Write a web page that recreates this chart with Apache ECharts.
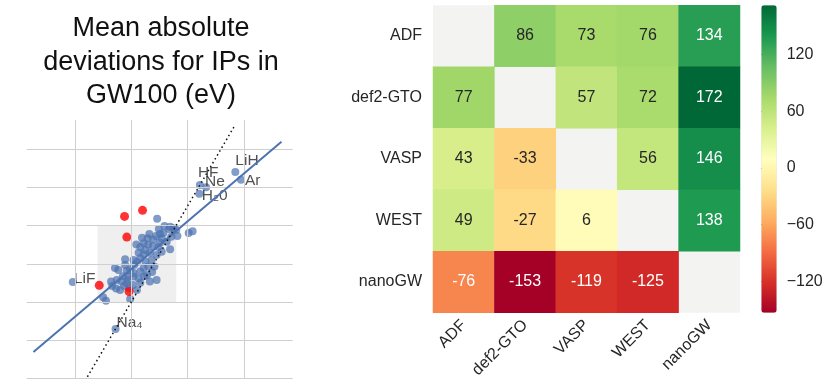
<!DOCTYPE html>
<html><head><meta charset="utf-8">
<script src="https://cdn.jsdelivr.net/npm/echarts@6/dist/echarts.min.js"></script>
<style>html,body{margin:0;padding:0;background:#fff}#c{width:830px;height:386px}</style>
</head><body><div id="c"></div><script>
// ---------- scatter data (grid units) ----------
const clusterX = [2.46,2.59,2.69,2.67,2.75,2.80,2.49,2.51,3.02,3.09,2.32,2.29,2.39,2.44,2.54,2.63,2.71,2.82,2.09,2.22,2.16,2.30,2.38,2.48,2.69,2.13,2.22,2.33,2.45,2.54,1.89,2.04,2.16,2.25,2.36,2.41,2.30,2.22,1.71,1.77,1.92,1.98,2.04,2.16,1.85,1.95,2.04,2.13,2.28,2.45,2.33,2.16,1.64,1.74,1.83,1.92,1.73,1.80,2.03,2.10,1.50,1.98,1.55,2.57,2.25,2.05,1.89,2.10,1.94,1.87,2.23,2.37,1.66,2.19,2.51,1.96];
const clusterY = [4.18,3.99,3.97,3.91,3.93,3.89,3.91,3.78,3.81,3.85,3.78,3.67,3.64,3.73,3.67,3.58,3.71,3.73,3.51,3.54,3.44,3.50,3.47,3.44,3.38,3.29,3.25,3.29,3.23,3.32,3.12,3.10,3.15,3.06,3.10,2.93,2.93,2.89,2.89,2.84,2.82,2.86,2.76,2.80,2.68,2.67,2.67,2.62,2.71,2.58,2.54,2.51,2.54,2.58,2.54,2.49,2.36,2.32,2.45,2.32,2.13,2.08,2.04,3.81,3.36,2.97,2.97,3.05,2.58,2.42,2.68,2.79,2.42,3.68,3.55,2.37];
const redX = [1.88,2.20,1.92,1.43,1.96];
const redY = [4.24,4.40,3.70,2.44,2.28];
const labeledNames = ['LiF','Na₄','HF','Ne','H₂0','LiH','Ar'];
const labeledX = [0.96,1.72,3.22,3.33,3.21,3.85,3.95];
const labeledY = [2.53,1.30,5.06,5.00,4.83,5.40,5.20];
const fitLineX = [0.26,4.67];
const fitLineY = [0.70,6.19];
const identityLineX = [1.22,3.85];
const identityLineY = [0.05,6.64];
const boxX = [1.4,2.8];
const boxY = [2.0,4.0];
const gridXTicks = [1,2,3,4];
const gridYTicks = [0,1,2,3,4,5,6];

// ---------- heatmap data ----------
const methods = ['ADF','def2-GTO','VASP','WEST','nanoGW'];
const rowADF    = [null, 86, 73, 76, 134];
const rowDef2   = [77, null, 57, 72, 172];
const rowVASP   = [43, -33, null, 56, 146];
const rowWEST   = [49, -27, 6, null, 138];
const rowNanoGW = [-76, -153, -119, -125, null];
const colorbarTicks = [-120,-60,0,60,120];
const colorMin = -153, colorMax = 172;

// ---------- style ----------
const FONT = "'Liberation Sans', Arial, Helvetica, sans-serif";
const TXT = '#262626';
const BLUE = '#4c72b0';
const PT = 'rgba(76,114,176,0.88)';
const labelOffsets = {'LiF':[5,0.5],'Na₄':[5,-2.5],'HF':[2,-8.8],'Ne':[3,-2.1],'H₂0':[6.5,5.5],'LiH':[4,-7.1],'Ar':[8,4.8]};

const rows = [rowADF,rowDef2,rowVASP,rowWEST,rowNanoGW];
const heatData = [];
rows.forEach((r, yi) => r.forEach((v, xi) => {
  if (v === null) return;
  const light = (v > 100 || v < -60);
  heatData.push({value:[xi, yi, v], label:{color: light ? '#ffffff' : TXT}});
}));

const gridLineData = gridXTicks.map(v => ({xAxis:v})).concat(gridYTicks.map(v => ({yAxis:v})));

const chart = echarts.init(document.getElementById('c'), null, {renderer:'canvas'});
chart.setOption({
  animation:false,
  backgroundColor:'#ffffff',
  textStyle:{fontFamily:FONT},
  graphic:[{
    type:'text', x:161, y:12,
    style:{text:'Mean absolute\ndeviations for IPs in\nGW100 (eV)', align:'center', verticalAlign:'top',
      font:'27px ' + FONT, lineHeight:33.5, fill:'#111'}
  }],
  grid:[
    {left:26.7, top:120, width:266, height:258.7},
    {left:433, top:5.3, width:307, height:307.4, show:true, backgroundColor:'#f3f3f1', borderWidth:0},
    {left:761.3, top:5.3, width:15.4, height:307.4}
  ],
  xAxis:[
    {gridIndex:0, type:'value', min:0.14, max:4.87, show:false},
    {gridIndex:1, type:'category', data:methods, axisLine:{show:false}, axisTick:{show:false},
      axisLabel:{rotate:45, fontSize:16, color:TXT, margin:10, fontFamily:FONT}, splitLine:{show:false}},
    {gridIndex:2, type:'value', show:false, min:0, max:1}
  ],
  yAxis:[
    {gridIndex:0, type:'value', min:0, max:6.76, show:false},
    {gridIndex:1, type:'category', data:methods, inverse:true, axisLine:{show:false}, axisTick:{show:false},
      axisLabel:{fontSize:16, color:TXT, margin:11, fontFamily:FONT}, splitLine:{show:false}},
    {gridIndex:2, type:'value', position:'right', min:colorMin, max:colorMax,
      axisLine:{show:false}, splitLine:{show:false},
      axisTick:{show:true, length:4, lineStyle:{color:TXT, width:1}, customValues:colorbarTicks},
      axisLabel:{show:true, fontSize:16, color:TXT, margin:10, fontFamily:FONT, customValues:colorbarTicks,
        formatter:v => String(v).replace('-', '\u2212')}}
  ],
  visualMap:[{
    type:'continuous', min:colorMin, max:colorMax, seriesIndex:6, calculable:false, show:true,
    orient:'vertical', left:761.3, top:5.3, itemWidth:15.4, itemHeight:307.4, padding:0, text:null,
    inRange:{color:['#a50026','#d73027','#f46d43','#fdae61','#fee08b','#ffffbf','#d9ef8b','#a6d96a','#66bd63','#1a9850','#006837']}
  }],
  series:[
    {type:'scatter', xAxisIndex:0, yAxisIndex:0, data:[], z:1, silent:true,
      markArea:{silent:true, itemStyle:{color:'#efefef'}, data:[[{coord:[boxX[0],boxY[0]]},{coord:[boxX[1],boxY[1]]}]]}},
    {type:'scatter', xAxisIndex:0, yAxisIndex:0, data:[], z:2, silent:true,
      markLine:{silent:true, symbol:['none','none'], label:{show:false}, lineStyle:{color:'#cfcfcf', type:'solid', width:1}, data:gridLineData}},
    {type:'scatter', xAxisIndex:0, yAxisIndex:0, z:3, symbolSize:8,
      itemStyle:{color:PT},
      data:clusterX.map((x,i)=>[x, clusterY[i]])},
    {type:'scatter', xAxisIndex:0, yAxisIndex:0, z:3, symbolSize:8,
      itemStyle:{color:PT},
      data:labeledNames.map((n,i)=>({name:n, value:[labeledX[i], labeledY[i]],
        label:{show:true, formatter:n, position:labelOffsets[n], align:'left', verticalAlign:'middle',
          fontSize:15.5, color:TXT, fontFamily:FONT}}))},
    {type:'scatter', xAxisIndex:0, yAxisIndex:0, z:4, symbolSize:9,
      itemStyle:{color:'#ff0000'},
      data:redX.map((x,i)=>[x, redY[i]])},
    {type:'line', xAxisIndex:0, yAxisIndex:0, z:5, symbol:'none', silent:true,
      lineStyle:{color:BLUE, width:2},
      data:fitLineX.map((x,i)=>[x, fitLineY[i]])},
    {type:'heatmap', xAxisIndex:1, yAxisIndex:1, data:heatData,
      label:{show:true, fontSize:16, fontFamily:FONT}, emphasis:{disabled:true}, itemStyle:{borderWidth:0}},
    {type:'line', xAxisIndex:0, yAxisIndex:0, z:6, symbol:'none', silent:true,
      lineStyle:{color:'#111', width:1.5, type:[1.5,3]},
      data:identityLineX.map((x,i)=>[x, identityLineY[i]])},
    {type:'scatter', xAxisIndex:2, yAxisIndex:2, data:[]}
  ]
});
</script></body></html>
